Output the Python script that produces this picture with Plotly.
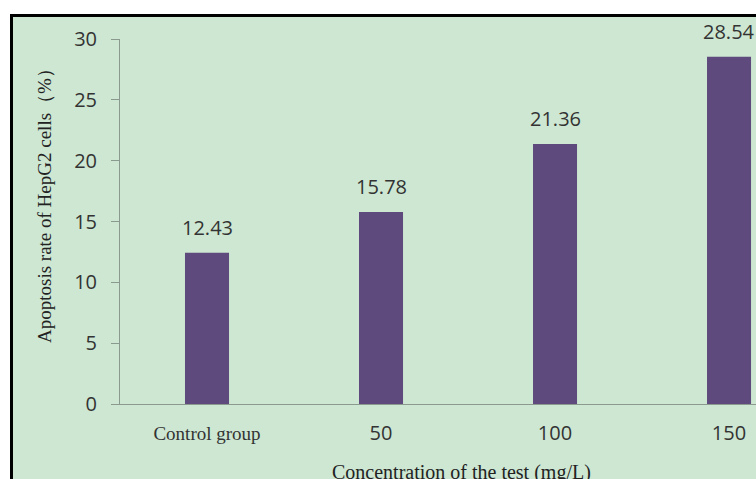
import plotly.graph_objects as go

categories = ["Control group", "50", "100", "150"]
values = [12.43, 15.78, 21.36, 28.54]
value_labels = ["12.43", "15.78", "21.36", "28.54"]
y_ticks = [0, 5, 10, 15, 20, 25, 30]

W, H = 756, 479
L, R, T, B = 120, 0, 39, 75
pw, ph = W - L - R, H - T - B

def px_x(px):
    return (px - L) / pw

def px_y(py):
    return (H - B - py) / ph

SANS = "Open Sans"
SERIF = "Liberation Serif"
BG = "#CDE7D2"
BAR = "#5E4A7C"
TXT = "#333333"

ticktext = []
for c in categories:
    if c == "Control group":
        ticktext.append(f'<span style="font-family:{SERIF};font-size:19px">{c}</span>')
    else:
        ticktext.append(c)

fig = go.Figure()
fig.add_trace(go.Bar(
    x=list(range(len(categories))), y=values,
    marker=dict(color=BAR, line=dict(width=0)),
    width=0.253,
    showlegend=False, hoverinfo="skip",
))

for i, (v, t) in enumerate(zip(values, value_labels)):
    fig.add_annotation(x=i, y=v, text=t, showarrow=False, yanchor="bottom",
                       yshift=10, font=dict(family=SANS, size=20, color=TXT))

fig.add_shape(type="rect", xref="paper", yref="paper",
              x0=px_x(11.5), x1=px_x(775), y0=px_y(495), y1=px_y(15.5),
              fillcolor=BG, line=dict(color="black", width=3), layer="below")

fig.add_annotation(xref="paper", yref="paper", x=px_x(461), y=px_y(472),
                   text="Concentration of the test (mg/L)", showarrow=False,
                   xanchor="center", yanchor="middle",
                   font=dict(family=SERIF, size=20, color="#222222"))
fig.add_annotation(xref="paper", yref="paper", x=px_x(45), y=px_y(201),
                   text="Apoptosis rate of HepG2 cells（%）", showarrow=False,
                   textangle=-90, xanchor="center", yanchor="middle",
                   font=dict(family=SERIF, size=19, color="#222222"))

fig.update_layout(
    width=W, height=H,
    margin=dict(l=L, r=R, t=T, b=B, pad=0),
    paper_bgcolor="white", plot_bgcolor="rgba(0,0,0,0)",
    xaxis=dict(range=[-0.5, 3.155], tickvals=list(range(len(categories))),
               ticktext=ticktext, showgrid=False, zeroline=False,
               showline=True, linecolor="#8a9a8e", linewidth=1,
               ticks="", ticklabelstandoff=11,
               tickfont=dict(family=SANS, size=20, color=TXT)),
    yaxis=dict(range=[0, 30], tickvals=y_ticks, showgrid=False, zeroline=False,
               showline=True, linecolor="#8a9a8e", linewidth=1,
               ticks="outside", ticklen=8, tickcolor="#8a9a8e",
               ticklabelstandoff=10,
               tickfont=dict(family=SANS, size=20, color=TXT)),
)

fig.write_html("out.html")
